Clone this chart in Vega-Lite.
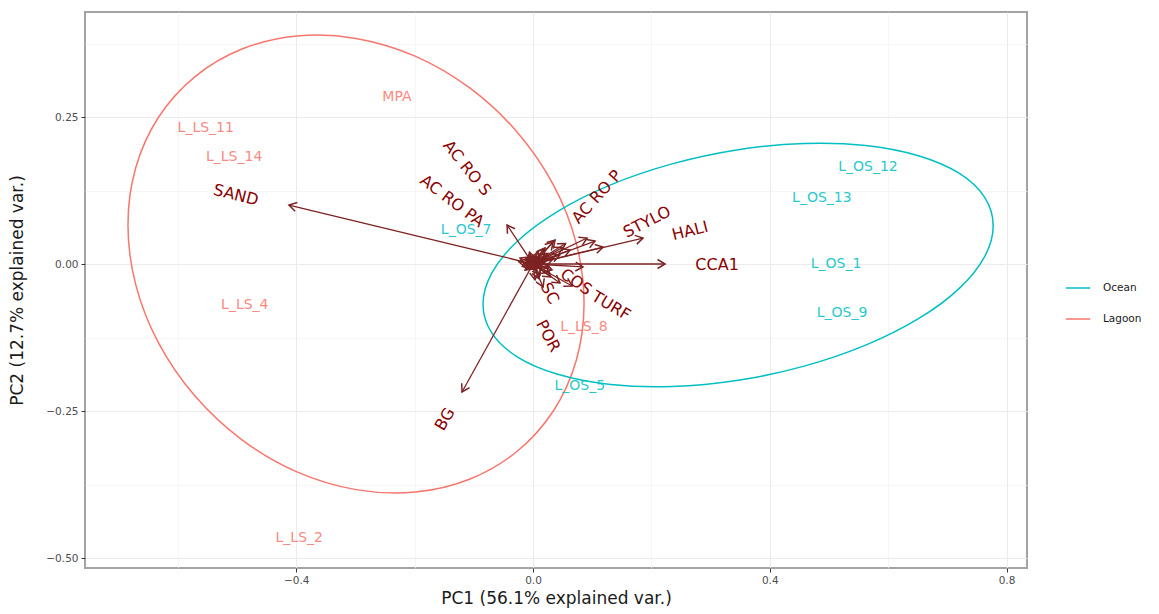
{
  "$schema": "https://vega.github.io/schema/vega-lite/v6.json",
  "width": 942,
  "height": 556,
  "autosize": {"type": "none"},
  "padding": {"left": 85, "top": 12, "right": 132, "bottom": 46},
  "background": "white",
  "config": {
    "font": "DejaVu Sans",
    "view": {"stroke": "#a3a3a3", "strokeWidth": 2},
    "axis": {"titleFontWeight": "normal", "titleColor": "#1a1a1a", "labelColor": "#4d4d4d"}
  },
  "datasets": {
    "ellipse": [
      {"group": "Lagoon", "i": 0, "x": 0.0862, "y": -0.0666},
      {"group": "Lagoon", "i": 1, "x": 0.0731, "y": -0.1637},
      {"group": "Lagoon", "i": 2, "x": 0.0346, "y": -0.2496},
      {"group": "Lagoon", "i": 3, "x": -0.0267, "y": -0.3184},
      {"group": "Lagoon", "i": 4, "x": -0.1064, "y": -0.3656},
      {"group": "Lagoon", "i": 5, "x": -0.1993, "y": -0.3879},
      {"group": "Lagoon", "i": 6, "x": -0.2991, "y": -0.3837},
      {"group": "Lagoon", "i": 7, "x": -0.3989, "y": -0.3535},
      {"group": "Lagoon", "i": 8, "x": -0.4918, "y": -0.299},
      {"group": "Lagoon", "i": 9, "x": -0.5715, "y": -0.2242},
      {"group": "Lagoon", "i": 10, "x": -0.6328, "y": -0.1342},
      {"group": "Lagoon", "i": 11, "x": -0.6713, "y": -0.0351},
      {"group": "Lagoon", "i": 12, "x": -0.6844, "y": 0.0666},
      {"group": "Lagoon", "i": 13, "x": -0.6713, "y": 0.1637},
      {"group": "Lagoon", "i": 14, "x": -0.6328, "y": 0.2496},
      {"group": "Lagoon", "i": 15, "x": -0.5715, "y": 0.3184},
      {"group": "Lagoon", "i": 16, "x": -0.4918, "y": 0.3656},
      {"group": "Lagoon", "i": 17, "x": -0.3989, "y": 0.3879},
      {"group": "Lagoon", "i": 18, "x": -0.2991, "y": 0.3837},
      {"group": "Lagoon", "i": 19, "x": -0.1993, "y": 0.3535},
      {"group": "Lagoon", "i": 20, "x": -0.1064, "y": 0.299},
      {"group": "Lagoon", "i": 21, "x": -0.0267, "y": 0.2242},
      {"group": "Lagoon", "i": 22, "x": 0.0346, "y": 0.1342},
      {"group": "Lagoon", "i": 23, "x": 0.0731, "y": 0.0351},
      {"group": "Ocean", "i": 0, "x": 0.7775, "y": 0.0652},
      {"group": "Ocean", "i": 1, "x": 0.7628, "y": 0.0122},
      {"group": "Ocean", "i": 2, "x": 0.7198, "y": -0.0418},
      {"group": "Ocean", "i": 3, "x": 0.6512, "y": -0.0930},
      {"group": "Ocean", "i": 4, "x": 0.562, "y": -0.1380},
      {"group": "Ocean", "i": 5, "x": 0.4581, "y": -0.1737},
      {"group": "Ocean", "i": 6, "x": 0.3465, "y": -0.1978},
      {"group": "Ocean", "i": 7, "x": 0.2349, "y": -0.2084},
      {"group": "Ocean", "i": 8, "x": 0.131, "y": -0.2050},
      {"group": "Ocean", "i": 9, "x": 0.0418, "y": -0.1876},
      {"group": "Ocean", "i": 10, "x": -0.0268, "y": -0.1578},
      {"group": "Ocean", "i": 11, "x": -0.0698, "y": -0.1172},
      {"group": "Ocean", "i": 12, "x": -0.0845, "y": -0.0686},
      {"group": "Ocean", "i": 13, "x": -0.0698, "y": -0.0156},
      {"group": "Ocean", "i": 14, "x": -0.0268, "y": 0.0384},
      {"group": "Ocean", "i": 15, "x": 0.0418, "y": 0.0896},
      {"group": "Ocean", "i": 16, "x": 0.131, "y": 0.1346},
      {"group": "Ocean", "i": 17, "x": 0.2349, "y": 0.1703},
      {"group": "Ocean", "i": 18, "x": 0.3465, "y": 0.1944},
      {"group": "Ocean", "i": 19, "x": 0.4581, "y": 0.2050},
      {"group": "Ocean", "i": 20, "x": 0.562, "y": 0.2016},
      {"group": "Ocean", "i": 21, "x": 0.6512, "y": 0.1842},
      {"group": "Ocean", "i": 22, "x": 0.7198, "y": 0.1544},
      {"group": "Ocean", "i": 23, "x": 0.7628, "y": 0.1138}
    ],
    "samples": [
      {"label": "MPA", "group": "Lagoon", "x": -0.23, "y": 0.284},
      {"label": "L_LS_11", "group": "Lagoon", "x": -0.553, "y": 0.231},
      {"label": "L_LS_14", "group": "Lagoon", "x": -0.505, "y": 0.182},
      {"label": "L_LS_4", "group": "Lagoon", "x": -0.487, "y": -0.07},
      {"label": "L_LS_2", "group": "Lagoon", "x": -0.395, "y": -0.466},
      {"label": "L_LS_8", "group": "Lagoon", "x": 0.086, "y": -0.107},
      {"label": "L_OS_7", "group": "Ocean", "x": -0.113, "y": 0.058},
      {"label": "L_OS_5", "group": "Ocean", "x": 0.079, "y": -0.207},
      {"label": "L_OS_12", "group": "Ocean", "x": 0.566, "y": 0.165},
      {"label": "L_OS_13", "group": "Ocean", "x": 0.488, "y": 0.112},
      {"label": "L_OS_1", "group": "Ocean", "x": 0.512, "y": 0.0},
      {"label": "L_OS_9", "group": "Ocean", "x": 0.522, "y": -0.083}
    ],
    "arrows": [
      {"var": "SAND", "x": -0.4124, "y": 0.1003},
      {"var": "ACROPA", "x": -0.0439, "y": 0.0663},
      {"var": "CCA1", "x": 0.2231, "y": 0.0},
      {"var": "STYLO", "x": 0.1859, "y": 0.0442},
      {"var": "HALI", "x": 0.1183, "y": 0.0289},
      {"var": "ACROP", "x": 0.0913, "y": 0.0442},
      {"var": "ACROS", "x": 0.0338, "y": 0.0374},
      {"var": "v1", "x": 0.0203, "y": 0.0272},
      {"var": "BG", "x": -0.12, "y": -0.2177},
      {"var": "COS", "x": 0.0456, "y": -0.0323},
      {"var": "SC", "x": 0.017, "y": -0.039},
      {"var": "TURF", "x": 0.0845, "y": -0.005},
      {"var": "v2", "x": 0.0372, "y": 0.0408},
      {"var": "v3", "x": 0.0625, "y": 0.0238},
      {"var": "v4", "x": 0.1048, "y": 0.0391},
      {"var": "v5", "x": 0.0659, "y": -0.0374},
      {"var": "v6", "x": -0.022, "y": 0.0102},
      {"var": "v7", "x": -0.0135, "y": -0.0102},
      {"var": "v8", "x": 0.0118, "y": -0.0187},
      {"var": "v9", "x": -0.005, "y": 0.0153},
      {"var": "v10", "x": 0.0203, "y": 0.0034},
      {"var": "v11", "x": 0.0085, "y": 0.0204},
      {"var": "v12", "x": -0.0085, "y": 0.0034},
      {"var": "v13", "x": 0.032, "y": -0.01},
      {"var": "POR", "x": 0.0034, "y": -0.027},
      {"var": "v14", "x": 0.012, "y": 0.008},
      {"var": "v15", "x": -0.015, "y": 0.002},
      {"var": "v16", "x": 0.006, "y": -0.012},
      {"var": "v17", "x": 0.02, "y": 0.012},
      {"var": "v18", "x": -0.01, "y": -0.006},
      {"var": "v19", "x": 0.015, "y": -0.006},
      {"var": "v20", "x": 0.025, "y": 0.018},
      {"var": "v21", "x": 0.004, "y": 0.01},
      {"var": "v22", "x": -0.018, "y": -0.004},
      {"var": "v23", "x": 0.028, "y": -0.015},
      {"var": "v24", "x": 0.01, "y": -0.025},
      {"var": "v25", "x": -0.006, "y": 0.02},
      {"var": "v26", "x": 0.035, "y": 0.01},
      {"var": "v27", "x": 0.018, "y": 0.026},
      {"var": "v28", "x": -0.024, "y": 0.004},
      {"var": "v29", "x": 0.008, "y": 0.002},
      {"var": "v30", "x": 0.03, "y": -0.022},
      {"var": "v31", "x": 0.045, "y": 0.015},
      {"var": "v32", "x": 0.05, "y": 0.028},
      {"var": "v33", "x": 0.055, "y": 0.035},
      {"var": "v34", "x": 0.014, "y": -0.002},
      {"var": "v35", "x": -0.004, "y": -0.004},
      {"var": "v36", "x": 0.022, "y": 0.006},
      {"var": "v37", "x": 0.005, "y": 0.015},
      {"var": "v38", "x": -0.012, "y": 0.009},
      {"var": "v39", "x": 0.026, "y": -0.006}
    ],
    "varlabels": [
      {"var": "SAND", "x": -0.502, "y": 0.117, "angle": 14},
      {"var": "AC RO S", "x": -0.1115, "y": 0.163, "angle": 51},
      {"var": "AC RO PA", "x": -0.137, "y": 0.107, "angle": 37},
      {"var": "AC RO P", "x": 0.108, "y": 0.114, "angle": -48},
      {"var": "STYLO", "x": 0.1927, "y": 0.0714, "angle": -27},
      {"var": "HALI", "x": 0.2653, "y": 0.0561, "angle": -14},
      {"var": "CCA1", "x": 0.311, "y": -0.0017, "angle": 0},
      {"var": "TURF", "x": 0.1318, "y": -0.0714, "angle": 31},
      {"var": "COS", "x": 0.0727, "y": -0.0306, "angle": 35},
      {"var": "SC", "x": 0.028, "y": -0.05, "angle": 62},
      {"var": "POR", "x": 0.0254, "y": -0.1224, "angle": 62},
      {"var": "BG", "x": -0.1487, "y": -0.264, "angle": -60}
    ]
  },
  "layer": [
    {
      "data": {"name": "ellipse"},
      "mark": {"type": "line", "interpolate": "cardinal-closed", "strokeWidth": 1.5},
      "encoding": {
        "x": {"field": "x", "type": "quantitative",
          "scale": {"domain": [-0.757, 0.8346], "nice": false, "zero": false},
          "axis": {"orient": "top", "values": [-0.6, -0.2, 0.2, 0.6], "grid": true, "gridColor": "#f2f2f2", "gridWidth": 0.7, "labels": false, "ticks": false, "domain": false, "title": null}},
        "y": {"field": "y", "type": "quantitative",
          "scale": {"domain": [-0.517, 0.4286], "nice": false, "zero": false},
          "axis": {"orient": "right", "values": [0.375, 0.125, -0.125, -0.375], "grid": true, "gridColor": "#f2f2f2", "gridWidth": 0.7, "labels": false, "ticks": false, "domain": false, "title": null}},
        "order": {"field": "i", "type": "quantitative"},
        "stroke": {"field": "group", "type": "nominal",
          "scale": {"domain": ["Ocean", "Lagoon"], "range": ["#00BFC4", "#F8766D"]},
          "legend": {"title": null, "orient": "none", "legendX": 980, "legendY": 263, "symbolType": "stroke", "symbolSize": 600, "symbolStrokeWidth": 1.5, "labelFontSize": 10.5, "labelColor": "#1a1a1a", "rowPadding": 12, "labelOffset": 12}}
      }
    },
    {
      "data": {"name": "samples"},
      "mark": {"type": "text", "fontSize": 14, "opacity": 0.85},
      "encoding": {
        "x": {"field": "x", "type": "quantitative",
          "axis": {"orient": "bottom", "values": [-0.4, 0, 0.4, 0.8], "format": ".1f", "grid": true, "gridColor": "#ebebeb", "gridWidth": 1, "domain": false, "ticks": true, "tickColor": "#333333", "tickSize": 4, "labelFontSize": 10.5, "labelPadding": 3, "title": "PC1 (56.1% explained var.)", "titleFontSize": 17, "titlePadding": 5}},
        "y": {"field": "y", "type": "quantitative",
          "axis": {"orient": "left", "values": [0.25, 0, -0.25, -0.5], "format": ".2f", "grid": true, "gridColor": "#ebebeb", "gridWidth": 1, "domain": false, "ticks": true, "tickColor": "#333333", "tickSize": 4, "labelFontSize": 10.5, "labelPadding": 3, "title": "PC2 (12.7% explained var.)", "titleFontSize": 17, "titlePadding": 19}},
        "text": {"field": "label", "type": "nominal"},
        "fill": {"field": "group", "type": "nominal",
          "scale": {"domain": ["Ocean", "Lagoon"], "range": ["#00BFC4", "#F8766D"]},
          "legend": null}
      }
    },
    {
      "data": {"name": "arrows"},
      "mark": {"type": "rule", "color": "#7d2222", "strokeWidth": 1.3},
      "encoding": {
        "x": {"field": "x", "type": "quantitative", "axis": null},
        "y": {"field": "y", "type": "quantitative", "axis": null},
        "x2": {"datum": 0},
        "y2": {"datum": 0}
      }
    },
    {
      "data": {"name": "arrows"},
      "transform": [{"calculate": "atan2(-datum.y, datum.x) * 180 / PI", "as": "dir"}],
      "mark": {"type": "point", "shape": "M-1,-0.6L0,0L-1,0.6", "filled": false, "color": "#7d2222", "strokeWidth": 1.5, "size": 225, "opacity": 1},
      "encoding": {
        "x": {"field": "x", "type": "quantitative", "axis": null},
        "y": {"field": "y", "type": "quantitative", "axis": null},
        "angle": {"field": "dir", "type": "quantitative", "scale": null}
      }
    },
    {
      "data": {"name": "varlabels"},
      "mark": {"type": "text", "fontSize": 16, "color": "#8B0000"},
      "encoding": {
        "x": {"field": "x", "type": "quantitative", "axis": null},
        "y": {"field": "y", "type": "quantitative", "axis": null},
        "text": {"field": "var", "type": "nominal"},
        "angle": {"field": "angle", "type": "quantitative", "scale": null}
      }
    }
  ],
  "resolve": {"axis": {"x": "independent", "y": "independent"}}
}
